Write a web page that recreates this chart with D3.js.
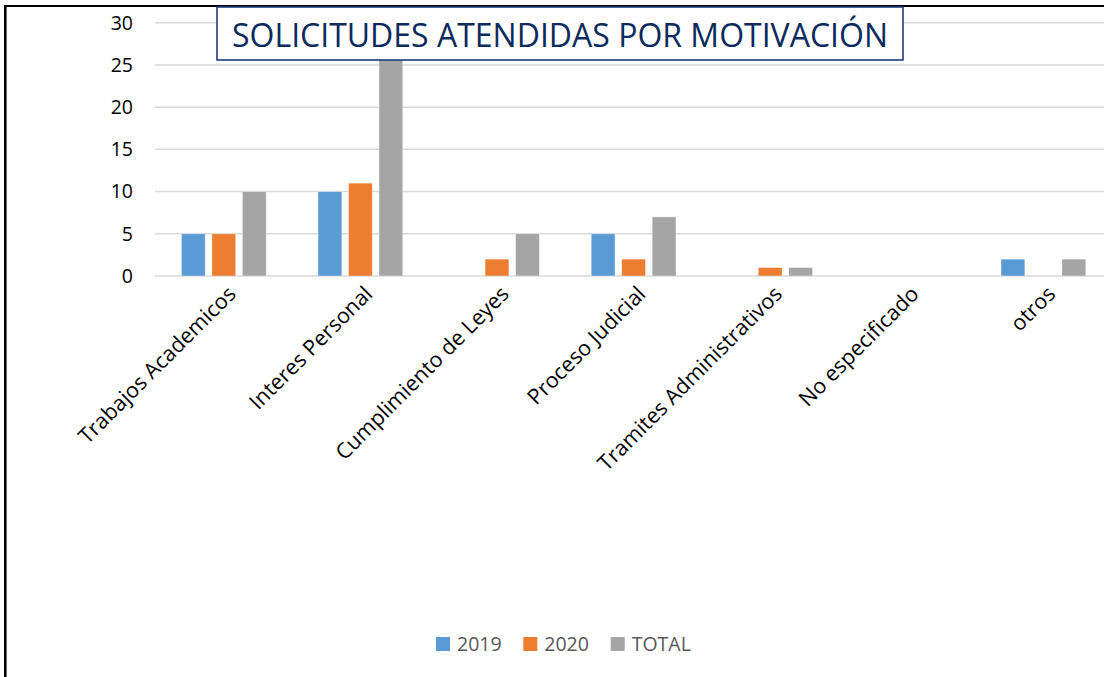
<!DOCTYPE html>
<html>
<head>
<meta charset="utf-8">
<script src="https://cdn.jsdelivr.net/npm/d3@7"></script>
<style>
  body { margin: 0; background: #fff; }
  svg { display: block; font-family: "Open Sans", "Liberation Sans", sans-serif; }
</style>
</head>
<body>
<svg width="1104" height="677"></svg>
<script>
// data
let categories = ["Trabajos Academicos", "Interes Personal", "Cumplimiento de Leyes", "Proceso Judicial", "Tramites Administrativos", "No especificado", "otros"];
let series = ["2019", "2020", "TOTAL"];
let v2019 = [5, 10, 0, 5, 0, 0, 2];
let v2020 = [5, 11, 2, 2, 1, 0, 0];
let vTotal = [10, 26, 5, 7, 1, 0, 2];
let yTicks = [0, 5, 10, 15, 20, 25, 30];
let colors = ["#5B9BD5", "#ED7D31", "#A5A5A5"];

let svg = d3.select("svg");
let width = +svg.attr("width");
let height = +svg.attr("height");

// frame (top and left edge visible)
svg.append("line").attr("x1", 5).attr("x2", width).attr("y1", 6).attr("y2", 6)
  .attr("stroke", "#000").attr("stroke-width", 2);
svg.append("line").attr("x1", 5.3).attr("x2", 5.3).attr("y1", 5).attr("y2", height)
  .attr("stroke", "#000").attr("stroke-width", 2.6);

let x = d3.scaleBand().domain(categories).range([155.5, 1111.7]);
let y = d3.scaleLinear().domain([0, 30]).range([276, 22.7]);
let xs = d3.scaleBand().domain(series).range([0, x.bandwidth()]).paddingInner(0.218).paddingOuter(0.85);

// gridlines
svg.append("g").selectAll("line").data(yTicks).join("line")
  .attr("x1", 155).attr("x2", width)
  .attr("y1", d => y(d)).attr("y2", d => y(d))
  .attr("stroke", "#d9d9d9").attr("stroke-width", 1.5);

// y labels
svg.append("g").selectAll("text").data(yTicks).join("text")
  .attr("x", 133).attr("y", d => y(d)).attr("dy", "0.35em")
  .attr("text-anchor", "end").attr("font-size", 19.5).attr("fill", "#000")
  .text(d => d);

// bars
let rows = categories.map((c, i) => ({ cat: c, vals: [v2019[i], v2020[i], vTotal[i]] }));
let groups = svg.append("g").selectAll("g").data(rows).join("g")
  .attr("transform", d => "translate(" + x(d.cat) + ",0)");
groups.selectAll("rect").data(d => d.vals.map((v, j) => ({ s: series[j], v: v, j: j })).filter(d => d.v > 0))
  .join("rect")
  .attr("x", d => xs(d.s))
  .attr("width", xs.bandwidth())
  .attr("y", d => y(d.v))
  .attr("height", d => y(0) - y(d.v))
  .attr("fill", d => colors[d.j])
  .attr("stroke", "#fff").attr("stroke-opacity", 0.5).attr("stroke-width", 0.8);

// category labels, rotated
svg.append("g").selectAll("text").data(categories).join("text")
  .attr("transform", d => "translate(" + (x(d) + x.bandwidth() / 2 + 8) + ",290) rotate(-45)")
  .attr("text-anchor", "end").attr("dy", "0.35em")
  .attr("font-size", 21.5).attr("fill", "#000")
  .text(d => d);

// title box
svg.append("rect").attr("x", 217).attr("y", 7).attr("width", 686).attr("height", 53)
  .attr("fill", "#fff").attr("stroke", "#1F3C7A").attr("stroke-width", 1.6);
svg.append("text").attr("x", 560).attr("y", 46.5).attr("text-anchor", "middle")
  .attr("font-size", 33).attr("fill", "#0B2A5E")
  .attr("textLength", 656).attr("lengthAdjust", "spacingAndGlyphs")
  .text("SOLICITUDES ATENDIDAS POR MOTIVACIÓN");

// legend
let legX = [436, 523.3, 610.7];
let leg = svg.append("g").selectAll("g").data(series).join("g")
  .attr("transform", (d, i) => "translate(" + legX[i] + ",637)");
leg.append("rect").attr("width", 14).attr("height", 14).attr("fill", (d, i) => colors[i]);
leg.append("text").attr("x", 21).attr("y", 7).attr("dy", "0.36em")
  .attr("font-size", 19.5).attr("fill", "#595959").text(d => d);
</script>
</body>
</html>
